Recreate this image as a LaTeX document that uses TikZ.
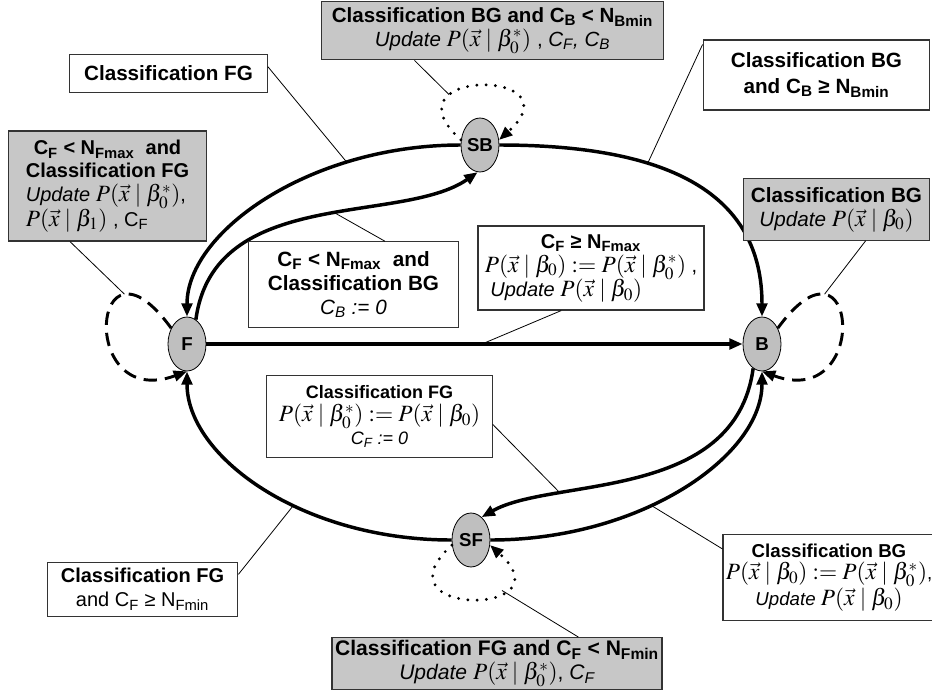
\documentclass[tikz,border=0pt]{standalone}
\usepackage{mathptmx}
\usepackage[no-math]{fontspec}
\setmainfont{Liberation Sans}
\usetikzlibrary{shapes.geometric,arrows.meta}

\newcommand{\fs}[2]{\fontsize{#1}{#2}\selectfont}
\newcommand{\sbs}[1]{\textsubscript{#1}}
\newcommand{\Px}[1]{P(\vec{x}\mid\beta#1)}
\newcommand{\mth}[1]{{\fs{17.5}{17.5}$#1$}}

\tikzset{
  state/.style={ellipse, draw, line width=0.6pt, fill=black!25, minimum width=28.5pt,
    minimum height=40.5pt, inner sep=0pt, font=\fs{14}{14}\bfseries},
  trans/.style={line width=2.6pt, -{Triangle[length=10pt,width=8pt]}},
  loopd/.style={line width=2.2pt, dash pattern=on 10pt off 6pt, -{Triangle[length=10pt,width=8pt]}},
  loopp/.style={line width=2.4pt, dash pattern=on 0pt off 7pt, line cap=round, -{Triangle[length=10pt,width=8pt]}},
  lbl/.style={line width=0.6pt},
  cond/.style={draw=black!80, line width=0.9pt, fill=white, align=center, inner sep=2pt},
  condg/.style={cond, fill=black!22},
}

\begin{document}
\begin{tikzpicture}[x=0.75pt, y=0.75pt]
  \useasboundingbox (0,0) rectangle (932,-690);

  % stany
  \node[state] (F) at (187,-344) {F};
  \node[state] (B) at (762,-344) {B};
  \node[state] (SB) at (480,-145) {SB};
  \node[state] (SF) at (471,-540) {SF};

  % perekhody
  \draw[trans] (F) -- (B) coordinate[pos=.514] (cFB);
  \draw[trans] (SB.west) .. controls +(-150,0) and +(0,85) .. (F.north) coordinate[pos=.27] (cFG);
  \draw[trans] (SB.east) .. controls +(175,0) and +(0,120) .. (B.north) coordinate[pos=.34] (cBG);
  \draw[trans] (SF.west) .. controls +(-150,0) and +(0,-85) .. (F.south) coordinate[pos=.4] (cSFF);
  \draw[trans] (SF.east) .. controls +(150,0) and +(0,-85) .. (B.south) coordinate[pos=.4] (cSFB);
  \draw[trans] (F.70) .. controls +(18,134) and +(-76,-53) .. (SB.265) coordinate[pos=.55] (cFSB);
  \draw[trans] (B.250) .. controls +(-18,-134) and +(70,40) .. (SF.65) coordinate[pos=.72] (cBSF);

  % petli
  \draw[loopd] (F.135) .. controls +(-80,110) and +(-110,-40) .. (F.south) coordinate[pos=.25] (cF);
  \draw[loopd] (B.45) .. controls +(80,110) and +(110,-40) .. (B.south) coordinate[pos=.25] (cB);
  \draw[loopp] (SB.165) .. controls +(-80,72) and +(80,72) .. (SB.15) coordinate[pos=.3] (cSB);
  \draw[loopp] (SF.195) .. controls +(-80,-72) and +(80,-72) .. (SF.345) coordinate[pos=.7] (cSF);

  % umovy
  \node[condg, font=\fs{15.4}{18}, minimum width=257pt, minimum height=44pt] (bSB) at (492.5,-30.5)
    {\textbf{Classification BG and C\sbs{B} < N\sbs{Bmin}}\\
     \textit{Update} \mth{\Px{_0^*}} , \textit{C\sbs{F}, C\sbs{B}}};
  \node[cond, font=\fs{15.5}{18}, minimum width=148pt, minimum height=28pt] (bFG) at (168.5,-73.5)
    {\textbf{Classification FG}};
  \node[cond, font=\fs{15.5}{19}, minimum width=170pt, minimum height=52.5pt] (bBG) at (816.5,-75)
    {\textbf{Classification BG}\\ \textbf{and C\sbs{B} ≥ N\sbs{Bmin}}};
  \node[condg, font=\fs{15}{17}, minimum width=149pt, minimum height=82.5pt] (bF) at (107.5,-186)
    {\begin{tabular}{@{}l@{}}
       \multicolumn{1}{@{}c@{}}{\textbf{C\sbs{F} < N\sbs{Fmax}\ \ and}}\\
       \multicolumn{1}{@{}c@{}}{\textbf{Classification FG}}\\
       \textit{Update}\ \mth{\Px{_0^*}},\\
       \mth{\Px{_1}} , C\sbs{F}
     \end{tabular}};
  \node[condg, font=\fs{15.5}{18}, minimum width=140pt, minimum height=46pt] (bB) at (836.5,-209.5)
    {\textbf{Classification BG}\\ \textit{Update} \mth{\Px{_0}}};
  \node[cond, font=\fs{15.5}{18}, minimum width=158pt, minimum height=64pt] (bFSB) at (353.5,-284.5)
    {\textbf{C\sbs{F} < N\sbs{Fmax}\ \ and}\\ \textbf{Classification BG}\\ \textit{C\sbs{B} := 0}};
  \node[cond, font=\fs{15}{17}, minimum width=169.5pt, minimum height=63pt] (bFB) at (591,-268)
    {\begin{tabular}{@{}l@{}}
       \multicolumn{1}{@{}c@{}}{\textbf{C\sbs{F} ≥ N\sbs{Fmax}}}\\
       \mth{\Px{_0}:=\Px{_0^*}} ,\\
       \ \textit{Update} \mth{\Px{_0}}
     \end{tabular}};
  \node[cond, font=\fs{13.5}{17}, minimum width=169pt, minimum height=62pt] (bBSF) at (379.5,-416.5)
    {\textbf{Classification FG}\\ \mth{\Px{_0^*}:=\Px{_0}}\\ \textit{C\sbs{F} := 0}};
  \node[cond, font=\fs{14}{17}, minimum width=151.5pt, minimum height=64pt] (bSFB) at (829,-577.5)
    {\textbf{Classification BG}\\ \mth{\Px{_0}:=\Px{_0^*}},\\ \textit{Update}\ \mth{\Px{_0}}};
  \node[condg, font=\fs{15.8}{18}, minimum width=247.5pt, minimum height=35pt] (bSF) at (497,-663.5)
    {\textbf{Classification FG and C\sbs{F} < N\sbs{Fmin}}\\ \textit{Update} \mth{\Px{_0^*}}, \textit{C\sbs{F}}};
  \node[cond, font=\fs{15}{18}, minimum width=143pt, minimum height=41pt] (bSFF) at (142.5,-589.5)
    {\textbf{Classification FG}\\ and C\sbs{F} ≥ N\sbs{Fmin}};

  % vynosky
  \draw[lbl] (bSB.201) -- (cSB);
  \draw[lbl] (bFG.4) -- (cFG);
  \draw[lbl] (bBG.165) -- (cBG);
  \draw[lbl] (bF.236) -- (cF);
  \draw[lbl] (bB.313) -- (cB);
  \draw[lbl] (bFSB.54) -- (cFSB);
  \draw[lbl] (bFB.235) -- (cFB);
  \draw[lbl] (bBSF.356) -- (cBSF);
  \draw[lbl] (bSFB.165) -- (cSFB);
  \draw[lbl] (bSF.18) -- (cSF);
  \draw[lbl] (bSFF.9) -- (cSFF);
\end{tikzpicture}
\end{document}
